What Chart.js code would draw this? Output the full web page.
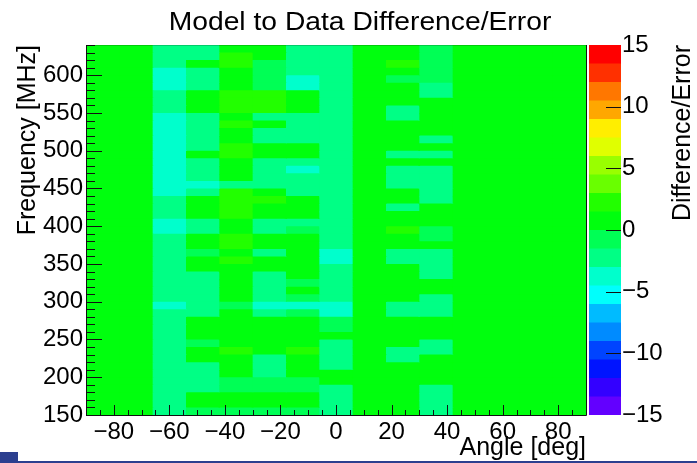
<!DOCTYPE html>
<html>
<head>
<meta charset="utf-8">
<title>Model to Data Difference/Error</title>
<script src="https://cdn.jsdelivr.net/npm/chart.js@4.4.1/dist/chart.umd.min.js"></script>
<style>
  html, body { margin: 0; padding: 0; background: #fff; }
  #wrap { position: relative; width: 697px; height: 463px; overflow: hidden; }
  #wrap canvas { position: absolute; top: 0; }
  #heat { left: 0; }
  #bar { left: 586px; }
  .slide-mark { position: absolute; left: 0; top: 452px; width: 18px; height: 11px; background: #2c3f8f; }
  .slide-line { position: absolute; left: 18px; right: 0; top: 461px; height: 2px; background: #2c3f8f; }
</style>
</head>
<body>
<div id="wrap">
  <canvas id="heat" width="697" height="463"></canvas>
  <canvas id="bar" width="111" height="463"></canvas>
  <div class="slide-mark"></div>
  <div class="slide-line"></div>
</div>
<script>
// bin centres: angle in deg (12 deg bins), frequency in MHz (10 MHz bins, top row first)
const angles = [-84, -72, -60, -48, -36, -24, -12, 0, 12, 24, 36, 48, 60, 72, 84];
const freqs = [635, 625, 615, 605, 595, 585, 575, 565, 555, 545, 535, 525, 515, 505, 495, 485, 475,
  465, 455, 445, 435, 425, 415, 405, 395, 385, 375, 365, 355, 345, 335, 325, 315, 305, 295, 285,
  275, 265, 255, 245, 235, 225, 215, 205, 195, 185, 175, 165, 155];
const freqBin = 10;

// (model - data) / error, one row per frequency, one entry per angle
const diff = [
  [0, 0, -2.2, -2.2, 0.6, 0.6, -2.2, -2.2, 0, 0.6, -0.8, 0, 0, 0, 0],
  [0, 0, -2.2, -2.2, 2.1, 0.6, -2.2, -2.2, 0, 0.6, -0.8, 0, 0, 0, 0],
  [0, 0, -2.2, 0.6, 2.1, -0.8, -2.2, -2.2, 0, 2.1, -0.8, 0, 0, 0, 0],
  [0, 0, -3.6, -2.2, 0.6, -0.8, -2.2, -2.2, 0, 0.6, -0.8, 0, 0, 0, 0],
  [0, 0, -3.6, -2.2, 0.6, -0.8, -3.6, -2.2, 0, -0.8, -0.8, 0, 0, 0, 0],
  [0, 0, -3.6, -2.2, 0.6, -0.8, -3.6, -2.2, 0, 0.6, -2.2, 0, 0, 0, 0],
  [0, 0, -2.2, 0.6, 2.1, 2.1, 0.6, -2.2, 0, 0.6, -2.2, 0, 0, 0, 0],
  [0, 0, -2.2, 0.6, 2.1, 2.1, 0.6, -2.2, 0, 0.6, 0.6, 0, 0, 0, 0],
  [0, 0, -2.2, 0.6, 2.1, 2.1, 0.6, -2.2, 0, -2.2, 0.6, 0, 0, 0, 0],
  [0, 0, -3.6, -2.2, 0.6, -2.2, -2.2, -2.2, 0, -2.2, 0.6, 0, 0, 0, 0],
  [0, 0, -3.6, -2.2, 2.1, 0.6, -2.2, -2.2, 0, 0.6, 0.6, 0, 0, 0, 0],
  [0, 0, -3.6, -2.2, 0.6, -2.2, -2.2, -2.2, 0, 0.6, 0.6, 0, 0, 0, 0],
  [0, 0, -3.6, -2.2, 0.6, -2.2, -2.2, -2.2, 0, 0.6, -2.2, 0, 0, 0, 0],
  [0, 0, -3.6, -2.2, 2.1, 0.6, 0.6, -2.2, 0, 0.6, 0.6, 0, 0, 0, 0],
  [0, 0, -3.6, 0.6, 2.1, 0.6, 0.6, -2.2, 0, -2.2, -2.2, 0, 0, 0, 0],
  [0, 0, -3.6, -2.2, 0.6, -2.2, -2.2, -2.2, 0, 0.6, 0.6, 0, 0, 0, 0],
  [0, 0, -3.6, -2.2, 0.6, -2.2, -3.6, -2.2, 0, -2.2, -2.2, 0, 0, 0, 0],
  [0, 0, -3.6, -2.2, 0.6, -2.2, -2.2, -2.2, 0, -2.2, -2.2, 0, 0, 0, 0],
  [0, 0, -3.6, -3.6, -2.2, -2.2, -2.2, -2.2, 0, -2.2, -2.2, 0, 0, 0, 0],
  [0, 0, -3.6, -2.2, 2.1, 0.6, -2.2, -2.2, 0, 0.6, -2.2, 0, 0, 0, 0],
  [0, 0, -2.2, 0.6, 2.1, 2.1, 0.6, -2.2, 0, 0.6, -2.2, 0, 0, 0, 0],
  [0, 0, -2.2, 0.6, 2.1, 0.6, 0.6, -2.2, 0, -2.2, 0.6, 0, 0, 0, 0],
  [0, 0, -2.2, 0.6, 2.1, 0.6, 0.6, -2.2, 0, 0.6, 0.6, 0, 0, 0, 0],
  [0, 0, -3.6, -2.2, 0.6, -2.2, -2.2, -2.2, 0, 0.6, 0.6, 0, 0, 0, 0],
  [0, 0, -3.6, -2.2, 0.6, -2.2, -0.8, -2.2, 0, 2.1, -0.8, 0, 0, 0, 0],
  [0, 0, -2.2, 0.6, 2.1, 0.6, 0.6, -2.2, 0, 0.6, -0.8, 0, 0, 0, 0],
  [0, 0, -2.2, 0.6, 2.1, 0.6, 0.6, -2.2, 0, 0.6, 0.6, 0, 0, 0, 0],
  [0, 0, -2.2, -0.8, 0.6, -2.2, 0.6, -3.6, 0, -2.2, -2.2, 0, 0, 0, 0],
  [0, 0, -2.2, 0.6, 2.1, 0.6, 0.6, -3.6, 0, -2.2, -2.2, 0, 0, 0, 0],
  [0, 0, -2.2, 0.6, 0.6, 0.6, 0.6, -2.2, 0, 0.6, -2.2, 0, 0, 0, 0],
  [0, 0, -2.2, -2.2, 0.6, -2.2, 0.6, -2.2, 0, 0.6, -2.2, 0, 0, 0, 0],
  [0, 0, -2.2, -2.2, 0.6, -2.2, -0.8, -2.2, 0, 0.6, 0.6, 0, 0, 0, 0],
  [0, 0, -2.2, -2.2, 0.6, -2.2, 0.6, -2.2, 0, 0.6, 0.6, 0, 0, 0, 0],
  [0, 0, -2.2, -2.2, 0.6, -2.2, -0.8, -2.2, 0, 0.6, -2.2, 0, 0, 0, 0],
  [0, 0, -3.6, -2.2, -0.8, -3.6, -3.6, -3.6, 0, -2.2, -2.2, 0, 0, 0, 0],
  [0, 0, -2.2, -2.2, 0.6, -2.2, -0.8, -3.6, 0, -2.2, -2.2, 0, 0, 0, 0],
  [0, 0, -2.2, 0.6, 0.6, 0.6, 0.6, -0.8, 0, 0.6, 0.6, 0, 0, 0, 0],
  [0, 0, -2.2, 0.6, 0.6, 0.6, 0.6, -0.8, 0, 0.6, 0.6, 0, 0, 0, 0],
  [0, 0, -2.2, 0.6, 0.6, 0.6, 0.6, 0.6, 0, 0.6, 0.6, 0, 0, 0, 0],
  [0, 0, -2.2, -0.8, 0.6, 0.6, 0.6, -2.2, 0, 0.6, -2.2, 0, 0, 0, 0],
  [0, 0, -2.2, 0.6, 2.1, 0.6, 2.1, -2.2, 0, -2.2, -2.2, 0, 0, 0, 0],
  [0, 0, -2.2, 0.6, 0.6, -2.2, 0.6, -2.2, 0, -2.2, 0.6, 0, 0, 0, 0],
  [0, 0, -2.2, -2.2, 0.6, -2.2, 0.6, -2.2, 0, 0.6, 0.6, 0, 0, 0, 0],
  [0, 0, -2.2, -2.2, 0.6, -2.2, 0.6, 0.6, 0, 0.6, 0.6, 0, 0, 0, 0],
  [0, 0, -2.2, -2.2, -0.8, -0.8, -0.8, 0.6, 0, 0.6, 0.6, 0, 0, 0, 0],
  [0, 0, -2.2, -2.2, -0.8, -0.8, -0.8, -2.2, 0, 0.6, -2.2, 0, 0, 0, 0],
  [0, 0, -2.2, 0.6, 0.6, 0.6, 0.6, -2.2, 0, 0.6, -2.2, 0, 0, 0, 0],
  [0, 0, -2.2, 0.6, 0.6, 0.6, 0.6, -2.2, 0, 0.6, -2.2, 0, 0, 0, 0],
  [0, 0, -2.2, -0.8, -0.8, -0.8, -0.8, -2.2, 0, 0.6, -2.2, 0, 0, 0, 0]
];

// contour levels of the colour scale
const levels = [-15, -13.5, -12, -10.5, -9, -7.5, -6, -4.5, -3, -1.5, 0,
  1.5, 3, 4.5, 6, 7.5, 9, 10.5, 12, 13.5, 15];

const angleTicks = [-80, -60, -40, -20, 0, 20, 40, 60, 80];
const freqTicks = [150, 200, 250, 300, 350, 400, 450, 500, 550, 600];
const diffTicks = [-15, -10, -5, 0, 5, 10, 15];

const FONT = '"Liberation Sans", Arial, Helvetica, sans-serif';

// ROOT "pretty" palette: 49 HLS hues from violet (280) towards red, last one pure red
function bandColor(k) {
  const i = Math.floor((k + 0.99) * 50 / (levels.length - 1));
  if (i >= 49) return 'hsl(0,100%,50%)';
  return `hsl(${280 - (i + 1) * 5.6},100%,50%)`;
}

function cellColor(v) {
  let k = 0;
  while (k < levels.length - 2 && v >= levels[k + 1]) k++;
  return bandColor(k);
}

const minus = v => String(v).replace('-', '\u2212');

function steps(from, to, step, skip) {
  const out = [];
  for (let v = from; v <= to; v += step) if (v % skip !== 0) out.push(v);
  return out;
}

// cells: a thin top/right border in the cell colour lets inflateAmount grow
// the fill over the neighbouring cell, so no antialiased seams show between bins
const cellStyle = {
  grouped: false,
  barPercentage: 1,
  categoryPercentage: 1,
  borderWidth: { top: 0.3, right: 0.3, bottom: 0, left: 0 },
  borderSkipped: false,
  inflateAmount: 1,
  clip: 0
};

// inward tick marks, plot frame and free-standing titles
const frameTicks = {
  id: 'frameTicks',
  afterDatasetsDraw(chart, args, opts) {
    const ctx = chart.ctx, a = chart.chartArea;
    ctx.save();
    ctx.lineWidth = 1;
    ctx.strokeStyle = '#111';
    ctx.beginPath();
    (opts.marks || []).forEach(m => {
      const s = chart.scales[m.axis];
      m.values.forEach(v => {
        const p = Math.round(s.getPixelForValue(v)) + 0.5;
        if (m.axis === 'x') {
          ctx.moveTo(p, a.bottom); ctx.lineTo(p, a.bottom - m.len);
        } else if (m.right) {
          ctx.moveTo(a.right, p); ctx.lineTo(a.right - m.len, p);
        } else {
          ctx.moveTo(a.left, p); ctx.lineTo(a.left + m.len, p);
        }
      });
    });
    ctx.stroke();

    if (opts.frame) {
      ctx.beginPath();
      ctx.moveTo(a.left + 0.5, a.top);
      ctx.lineTo(a.left + 0.5, a.bottom + 0.5);
      ctx.lineTo(a.right + 0.5, a.bottom + 0.5);
      ctx.lineTo(a.right + 0.5, a.top);
      ctx.stroke();
      ctx.strokeStyle = 'rgba(0,0,0,0.2)';
      ctx.beginPath();
      ctx.moveTo(a.left, a.top + 0.5);
      ctx.lineTo(a.right, a.top + 0.5);
      ctx.stroke();
    }

    (opts.texts || []).forEach(t => {
      ctx.save();
      ctx.translate(t.x, t.y);
      if (t.rot) ctx.rotate(t.rot * Math.PI / 180);
      if (t.sx) ctx.scale(t.sx, 1);
      ctx.font = `${t.size}px ${FONT}`;
      ctx.fillStyle = '#000';
      ctx.textAlign = t.align || 'center';
      ctx.textBaseline = 'alphabetic';
      ctx.fillText(t.text, 0, 0);
      ctx.restore();
    });
    ctx.restore();
  }
};

const tickFont = { family: FONT, size: 24 };
const titleFont = { family: FONT, size: 25 };

new Chart(document.getElementById('heat'), {
  type: 'bar',
  data: {
    datasets: diff.map((row, r) => {
      const colors = row.map(cellColor);
      return {
        ...cellStyle,
        data: angles.map(a => ({ x: a, y: [freqs[r] - freqBin / 2, freqs[r] + freqBin / 2] })),
        backgroundColor: colors,
        borderColor: colors
      };
    })
  },
  options: {
    responsive: false,
    animation: false,
    devicePixelRatio: 1,
    layout: { padding: { top: 45, right: 111, left: 0, bottom: 0 } },
    plugins: {
      legend: { display: false },
      tooltip: { enabled: false },
      frameTicks: {
        frame: true,
        marks: [
          { axis: 'x', values: angleTicks, len: 10 },
          { axis: 'x', values: steps(-85, 85, 5, 20), len: 5 },
          { axis: 'y', values: freqTicks, len: 16 },
          { axis: 'y', values: steps(160, 640, 10, 50), len: 9 }
        ],
        texts: [{ text: 'Model to Data Difference/Error', x: 360, y: 29.5, size: 25, sx: 1.13 }]
      }
    },
    scales: {
      x: {
        type: 'linear',
        min: -90,
        max: 90,
        offset: false,
        afterBuildTicks: s => { s.ticks = angleTicks.map(v => ({ value: v })); },
        afterFit: s => { s.height = 48; },
        grid: { display: false, drawTicks: false },
        border: { display: false },
        ticks: { font: tickFont, color: '#000', padding: 3, maxRotation: 0, autoSkip: false, callback: v => minus(v) },
        title: { display: true, text: 'Angle [deg]', align: 'end', font: titleFont, color: '#000', padding: 0 }
      },
      y: {
        min: 150,
        max: 640,
        afterBuildTicks: s => { s.ticks = freqTicks.map(v => ({ value: v })); },
        afterFit: s => { s.width = 86; },
        grid: { display: false, drawTicks: false },
        border: { display: false },
        ticks: { font: tickFont, color: '#000', padding: 3, autoSkip: false },
        title: { display: true, text: 'Frequency [MHz]', align: 'end', font: titleFont, color: '#000', padding: { top: 13, bottom: 0 } }
      }
    }
  },
  plugins: [frameTicks]
});

// colour scale
new Chart(document.getElementById('bar'), {
  type: 'bar',
  data: {
    labels: [''],
    datasets: levels.slice(0, -1).map((lo, k) => ({
      ...cellStyle,
      data: [[lo, levels[k + 1]]],
      backgroundColor: bandColor(k),
      borderColor: bandColor(k)
    })).reverse()
  },
  options: {
    responsive: false,
    animation: false,
    devicePixelRatio: 1,
    layout: { padding: { left: 3, top: 45, bottom: 48, right: 0 } },
    plugins: {
      legend: { display: false },
      tooltip: { enabled: false },
      frameTicks: {
        marks: [{ axis: 'y', values: diffTicks.slice(1, -1), len: 15, right: true }],
        texts: [{ text: 'Difference/Error', x: 104, y: 45, size: 25, rot: -90, align: 'right' }]
      }
    },
    scales: {
      x: { display: false },
      y: {
        position: 'right',
        min: -15,
        max: 15,
        afterBuildTicks: s => { s.ticks = diffTicks.map(v => ({ value: v })); },
        afterFit: s => { s.width = 76; },
        grid: { display: false, drawTicks: false },
        border: { display: false },
        ticks: { font: tickFont, color: '#000', padding: 1, autoSkip: false, callback: v => minus(v) }
      }
    }
  },
  plugins: [frameTicks]
});
</script>
</body>
</html>
